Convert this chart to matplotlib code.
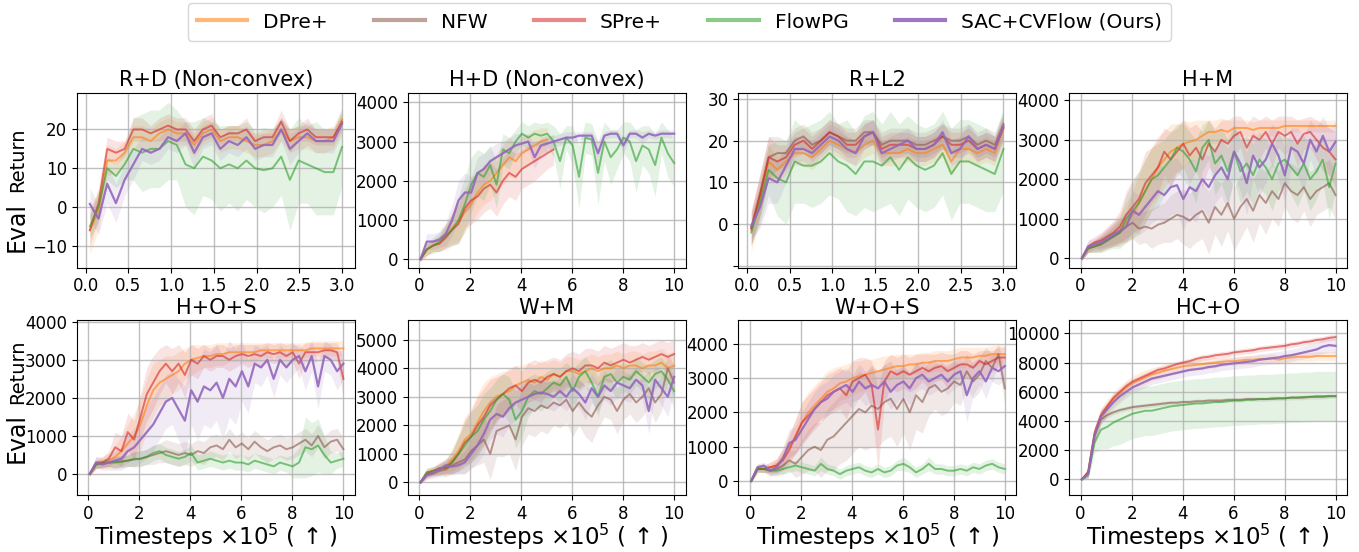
import numpy as np
import matplotlib
matplotlib.use("Agg")
import matplotlib.pyplot as plt

# x grids (x10^5 timesteps)
x_short = np.linspace(0.05, 3.0, 30)
x_long = np.linspace(0.05, 10.0, 41)

method_names = ["DPre+", "NFW", "SPre+", "FlowPG", "SAC+CVFlow (Ours)"]
method_colors = ["tab:orange", "tab:brown", "tab:red", "tab:green", "tab:purple"]

# ---------------- R+D (Non-convex) ----------------
rd_dpre = [-6, -1, 12, 12, 14, 18, 18, 17, 19, 20, 19, 19, 16, 19, 20, 17, 18, 18, 17, 16, 16, 17, 20, 17, 18, 18, 17, 17, 18, 22.5]
rd_spre = [-6, 1, 15, 14, 15, 20, 20, 19, 20, 21, 20, 20, 17, 20, 21, 18, 19, 19, 20, 17, 18, 18, 22, 17, 19, 20, 18, 18, 18, 22]
rd_flow = [-5, 0, 10, 8, 11, 15, 14, 15, 15, 17, 16, 11, 10, 13, 12, 10, 11, 10, 12, 10, 9.5, 10, 13, 7, 12, 11, 10, 9, 9, 15.5]
rd_ours = [0.8, -3, 6, 1, 7, 11, 15, 14, 15, 18, 17, 19, 14, 18, 19, 15, 17, 16, 18, 15, 16, 16, 20, 15, 17, 19, 17, 17, 17, 21.5]
rd_dpre_sd = [6, 5, 4, 3, 3, 3, 3, 3, 3, 3, 3, 3, 3, 3, 3, 3, 3, 3, 3, 3, 3, 3, 3, 3, 3, 3, 3, 3, 3, 3]
rd_spre_sd = [4, 4, 3, 3, 2, 3, 3, 2, 3, 3, 3, 3, 3, 3, 3, 2, 2, 2, 3, 2, 2, 2, 3, 3, 2, 3, 2, 2, 2, 2]
rd_flow_sd = [3, 4, 3, 3, 4, 8, 10, 10, 10, 10, 9, 11, 12, 10, 10, 11, 10, 11, 10, 10, 11, 10, 10, 13, 11, 10, 12, 11, 11, 10]
rd_ours_sd = [4, 4, 5, 5, 4, 4, 3, 3, 3, 3, 3, 3, 4, 3, 3, 3, 3, 3, 3, 3, 3, 3, 3, 4, 3, 3, 3, 3, 3, 3]

# ---------------- R+L2 ----------------
rl_dpre = [-1.5, 6, 15, 13, 15, 17, 17, 16, 18, 20, 19, 18, 17, 19, 20, 17, 17, 17, 18, 17, 17, 18, 19, 15, 18, 18, 17, 18, 17, 23]
rl_nfw = [-1, 7, 16, 17, 17, 20, 21, 19, 20, 22, 21, 20, 20, 22, 22, 19, 20, 20, 20, 19, 19, 20, 21, 20, 20, 21, 19, 20, 19, 24]
rl_spre = [-1, 7, 16, 15, 16, 19, 20, 18, 20, 22, 21, 19, 19, 21, 22, 18, 19, 19, 19, 18, 18, 19, 21, 19, 19, 20, 18, 19, 18, 23]
rl_flow = [-2, 5, 13, 11, 10, 15, 14, 14, 15, 17, 15, 14, 12, 15, 15, 14, 16, 13, 16, 14, 13, 14, 17, 12, 15, 15, 14, 13, 12, 18]
rl_ours = [-0.5, 4, 11, 10, 14, 18, 18, 17, 19, 21, 20, 18, 17, 21, 22, 17, 18, 19, 20, 18, 18, 19, 22, 17, 18, 21, 18, 19, 18, 23.5]
rl_dpre_sd = [5, 5, 4, 3, 3, 3, 3, 3, 3, 3, 3, 3, 3, 3, 3, 3, 3, 3, 3, 3, 3, 3, 3, 3, 3, 3, 3, 3, 3, 3]
rl_nfw_sd = [4, 5, 5, 4, 3, 3, 3, 3, 3, 3, 3, 3, 3, 3, 3, 3, 3, 3, 3, 3, 3, 3, 3, 3, 3, 3, 3, 3, 3, 3]
rl_spre_sd = [4, 5, 5, 4, 3, 3, 3, 3, 3, 3, 3, 3, 3, 3, 3, 3, 3, 3, 3, 3, 3, 3, 3, 3, 3, 3, 3, 3, 3, 3]
rl_flow_sd = [3, 5, 6, 9, 10, 10, 9, 10, 10, 10, 9, 11, 10, 11, 12, 10, 11, 11, 10, 10, 10, 10, 10, 11, 10, 10, 10, 10, 9, 10]
rl_ours_sd = [3, 5, 6, 5, 4, 3, 3, 3, 3, 3, 3, 3, 3, 3, 3, 3, 3, 3, 3, 3, 3, 3, 3, 3, 3, 3, 3, 3, 3, 3]

# ---------------- H+D (Non-convex) ----------------
nan = np.nan
hd_dpre = [0, 250, 350, 400, 600, 800, 950, 1200, 1400, 1700, 1900, 2000, 2200, 2400, 2600, 2500, 2700, 2800, 2900, 3000, 3050,
           nan, nan, nan, nan, nan, nan, nan, nan, nan, nan, nan, nan, nan, nan, nan, nan, nan, nan, nan, nan]
hd_spre = [0, 250, 350, 400, 550, 750, 900, 1300, 1500, 1600, 1800, 1900, 1700, 2000, 2200, 2100, 2300, 2400, 2500, 2600, 2700,
           2800, nan, nan, nan, nan, nan, nan, nan, nan, nan, nan, nan, nan, nan, nan, nan, nan, nan, nan, nan]
hd_flow = [0, 250, 350, 450, 600, 750, 1000, 1400, 1900, 2200, 2100, 2400, 1900, 2800, 2700, 3000, 3200, 3100, 3200, 3150, 3200,
           3000, 2500, 3100, 2900, 2100, 3100, 3050, 2200, 3000, 2600, 2800, 3100, 3000, 2500, 2900, 2800, 2400, 3100, 2700, 2450]
hd_ours = [0, 450, 450, 500, 650, 1000, 1500, 1700, 1700, 2200, 2300, 2500, 2600, 2700, 2800, 2900, 2950, 3000, 2600, 2900, 2950,
           3000, 3050, 3100, 3100, 3150, 3150, 3150, 2700, 3150, 3200, 3200, 2900, 3200, 3200, 3100, 3200, 3150, 3200, 3200, 3200]
hd_dpre_sd = [50, 150, 150, 200, 300, 400, 500, 500, 500, 500, 500, 500, 500, 500, 500, 450, 400, 400, 400, 350, 300,
              nan, nan, nan, nan, nan, nan, nan, nan, nan, nan, nan, nan, nan, nan, nan, nan, nan, nan, nan, nan]
hd_spre_sd = [50, 150, 150, 200, 300, 400, 500, 500, 600, 600, 600, 600, 600, 600, 600, 600, 500, 500, 500, 450, 400,
              400, nan, nan, nan, nan, nan, nan, nan, nan, nan, nan, nan, nan, nan, nan, nan, nan, nan, nan, nan]
hd_flow_sd = [50, 150, 200, 250, 300, 400, 600, 700, 700, 600, 600, 500, 600, 400, 400, 300, 300, 300, 300, 300, 300,
              400, 700, 300, 500, 800, 400, 400, 800, 500, 700, 500, 400, 500, 800, 500, 600, 800, 400, 600, 600]
hd_ours_sd = [50, 200, 200, 200, 300, 400, 500, 500, 400, 400, 400, 350, 350, 300, 300, 300, 250, 200, 300, 200, 200,
              150, 150, 150, 150, 100, 100, 100, 300, 100, 100, 100, 200, 100, 100, 150, 100, 100, 100, 100, 100]

# ---------------- H+M ----------------
hm_dpre = [0, 250, 300, 400, 500, 600, 700, 900, 1100, 1400, 1700, 2000, 2300, 2500, 2700, 2800, 2900, 2950, 3000, 3100, 3200,
           3200, 3250, 3200, 3300, 3300, 3300, 3250, 3300, 3300, 3300, 3300, 3350, 3350, 3350, 3350, 3350, 3350, 3350, 3350, 3350]
hm_nfw = [0, 250, 300, 350, 450, 550, 650, 800, 900, 750, 800, 750, 850, 900, 1000, 1100, 1050, 950, 1100, 1200, 900,
          1300, 1100, 1400, 1000, 1300, 1500, 1200, 1600, 1400, 1700, 1500, 1900, 1700, 1600, 1800, 1500, 1700, 1800, 1900, 1600]
hm_spre = [0, 300, 400, 450, 550, 650, 800, 1100, 1300, 1500, 1900, 2100, 2300, 2700, 2500, 2700, 2900, 2600, 2800, 2500, 2900,
           2700, 3000, 2900, 3100, 3200, 2800, 3100, 3000, 3200, 2900, 3200, 3100, 3200, 2900, 3150, 3200, 3000, 2800, 2700, 2500]
hm_flow = [0, 250, 300, 350, 450, 550, 650, 1000, 1200, 1400, 1700, 2000, 2100, 2300, 2500, 2800, 2700, 2500, 2200, 2800, 3000,
           2400, 2600, 2200, 2700, 2200, 2400, 2100, 2500, 2300, 2000, 2400, 2500, 2300, 2100, 2400, 2000, 2200, 2500, 1800, 2400]
hm_ours = [0, 300, 350, 400, 500, 600, 700, 800, 1200, 1100, 1300, 1500, 1700, 1600, 1800, 1850, 1500, 1800, 1700, 2000, 1800,
           2100, 2300, 2000, 2700, 2400, 1900, 2600, 2300, 2500, 2900, 2600, 2100, 2800, 2700, 2400, 3000, 2700, 3100, 2700, 2950]
hm_dpre_sd = [50, 100, 150, 200, 250, 300, 400, 500, 600, 700, 800, 800, 800, 700, 700, 600, 600, 500, 500, 400, 300,
              300, 300, 300, 200, 200, 200, 200, 200, 200, 200, 200, 150, 150, 150, 150, 150, 150, 150, 150, 150]
hm_nfw_sd = [50, 100, 150, 200, 200, 250, 300, 350, 400, 400, 400, 500, 500, 500, 600, 600, 700, 700, 700, 700, 800,
             700, 800, 700, 800, 800, 700, 800, 700, 800, 700, 700, 600, 700, 700, 600, 700, 600, 600, 600, 600]
hm_spre_sd = [50, 150, 150, 200, 250, 300, 400, 600, 700, 700, 800, 700, 700, 600, 700, 600, 600, 700, 600, 700, 600,
              600, 500, 600, 500, 400, 600, 500, 500, 400, 600, 400, 500, 400, 600, 400, 400, 500, 600, 600, 700]
hm_flow_sd = [50, 100, 150, 200, 250, 300, 400, 600, 700, 800, 800, 800, 800, 700, 700, 600, 700, 700, 800, 600, 500,
              800, 700, 800, 700, 800, 700, 800, 700, 700, 800, 700, 600, 700, 800, 700, 800, 700, 600, 800, 700]
hm_ours_sd = [50, 150, 150, 200, 250, 300, 300, 400, 500, 500, 600, 600, 700, 700, 700, 700, 800, 700, 800, 700, 800,
              700, 700, 800, 600, 700, 800, 600, 700, 600, 500, 600, 700, 500, 600, 700, 500, 600, 500, 600, 500]

# ---------------- H+O+S ----------------
hos_dpre = [0, 250, 300, 350, 450, 600, 800, 1000, 1300, 1800, 2200, 2400, 2500, 2600, 2700, 2900, 3000, 3050, 3100, 3100, 3150,
            3150, 3200, 3200, 3200, 3200, 3200, 3250, 3250, 3250, 3250, 3250, 3250, 3250, 3250, 3300, 3300, 3300, 3300, 3300, 3300]
hos_nfw = [0, 250, 280, 300, 320, 330, 350, 380, 400, 450, 500, 550, 600, 550, 500, 550, 500, 600, 550, 700, 750,
           650, 900, 700, 800, 650, 850, 700, 600, 700, 750, 650, 700, 800, 900, 750, 1000, 700, 850, 900, 650]
hos_spre = [0, 300, 300, 400, 700, 600, 1100, 900, 1500, 2100, 2400, 2700, 2900, 2700, 2900, 2600, 3000, 2900, 3100, 3000, 3100,
            3100, 3000, 3100, 3150, 3100, 3150, 3100, 3200, 3150, 3200, 3100, 3200, 2900, 3200, 3200, 3200, 3250, 3250, 3200, 2500]
hos_flow = [0, 250, 280, 300, 300, 320, 350, 400, 400, 450, 550, 600, 500, 450, 400, 450, 550, 300, 350, 400, 350,
            300, 350, 300, 300, 250, 350, 300, 250, 200, 300, 250, 200, 300, 700, 650, 750, 500, 300, 350, 400]
hos_ours = [0, 300, 250, 300, 350, 400, 600, 700, 900, 1100, 1300, 1600, 1900, 2000, 1700, 1400, 2200, 1900, 2300, 2200, 2400,
            2000, 2500, 2300, 2700, 2300, 2900, 2800, 3000, 2500, 3000, 2800, 3000, 3100, 2700, 3100, 2300, 3100, 3000, 2700, 2900]
hos_dpre_sd = [50, 100, 150, 200, 300, 400, 500, 600, 700, 700, 700, 600, 600, 500, 500, 400, 400, 350, 300, 300, 300,
               300, 250, 250, 250, 250, 250, 200, 200, 200, 200, 200, 200, 200, 200, 200, 200, 200, 200, 200, 200]
hos_nfw_sd = [50, 100, 100, 100, 150, 150, 150, 200, 200, 200, 250, 250, 300, 300, 300, 300, 300, 300, 300, 300, 300,
              300, 300, 300, 300, 300, 300, 300, 300, 300, 300, 300, 300, 300, 300, 300, 300, 300, 300, 300, 300]
hos_spre_sd = [50, 150, 150, 200, 400, 400, 500, 500, 600, 700, 700, 600, 500, 600, 500, 600, 400, 400, 300, 300, 300,
               300, 300, 300, 250, 300, 250, 300, 250, 250, 250, 300, 250, 400, 250, 250, 250, 200, 200, 250, 500]
hos_flow_sd = [50, 100, 100, 100, 150, 150, 150, 200, 200, 200, 200, 200, 200, 200, 200, 200, 200, 200, 200, 200, 200,
               200, 200, 200, 200, 200, 200, 200, 200, 200, 200, 200, 300, 400, 800, 700, 700, 500, 300, 200, 200]
hos_ours_sd = [50, 150, 150, 200, 250, 300, 400, 500, 600, 700, 700, 700, 700, 700, 800, 900, 900, 1000, 1000, 1000, 1000,
               1100, 1000, 1000, 800, 700, 500, 500, 400, 500, 400, 400, 400, 300, 500, 400, 600, 400, 400, 500, 400]

# ---------------- W+M ----------------
wm_dpre = [0, 350, 400, 450, 550, 800, 1100, 1500, 1700, 2100, 2500, 2800, 3000, 3100, 3200, 3400, 3500, 3600, 3500, 3700, 3600,
           3800, 3700, 3900, 3900, 3800, 3900, 4000, 3900, 4000, 4000, 4100, 4000, 4100, 4100, 4000, 4100, 4100, 4200, 4000, 4100]
wm_nfw = [0, 250, 300, 400, 450, 600, 700, 800, 1100, 1300, 1500, 1000, 1800, 1900, 2000, 1500, 2300, 2600, 2500, 2700, 2600,
          2800, 2700, 2900, 2500, 2800, 2500, 2300, 2700, 3000, 2900, 2500, 2900, 3100, 2800, 3000, 3300, 2800, 3100, 4000, 3500]
wm_spre = [0, 300, 400, 500, 500, 700, 1000, 1400, 1600, 2000, 2300, 2700, 2900, 3100, 3300, 3400, 3200, 3500, 3600, 3500, 3700,
           3800, 3700, 3900, 4000, 3900, 4100, 4100, 4000, 4200, 4100, 4200, 4300, 4200, 4300, 4400, 4300, 4400, 4500, 4400, 4500]
wm_flow = [0, 350, 400, 450, 550, 700, 1000, 1300, 1600, 1800, 2200, 2500, 2900, 3100, 2900, 2200, 2500, 3000, 3200, 3100, 3300,
           3500, 3400, 3700, 3200, 3700, 3900, 3500, 3000, 3700, 3800, 3500, 3700, 3600, 3900, 3700, 3500, 3800, 3900, 3600, 3200]
wm_ours = [0, 250, 350, 450, 600, 550, 600, 700, 1000, 1300, 1700, 2200, 2400, 2300, 2600, 2800, 2900, 3000, 3100, 3150, 3100,
           3000, 3200, 3000, 3300, 3100, 2800, 3300, 3000, 3400, 3200, 3500, 3400, 3300, 3600, 3400, 2500, 3600, 3300, 3000, 3700]
wm_dpre_sd = [50, 150, 150, 200, 250, 400, 600, 800, 900, 1000, 1000, 900, 800, 800, 700, 700, 600, 600, 600, 600, 600,
              500, 500, 500, 500, 500, 500, 500, 500, 500, 500, 500, 500, 500, 500, 500, 500, 500, 500, 500, 500]
wm_nfw_sd = [50, 150, 150, 200, 250, 300, 400, 500, 600, 700, 800, 900, 900, 1000, 1000, 1100, 1000, 900, 900, 900, 900,
             800, 800, 800, 900, 800, 900, 900, 800, 700, 700, 800, 700, 700, 700, 700, 600, 700, 600, 500, 600]
wm_spre_sd = [50, 150, 150, 200, 250, 400, 600, 800, 900, 1000, 1000, 900, 800, 700, 700, 700, 700, 700, 700, 700, 600,
              600, 600, 600, 600, 600, 600, 600, 600, 600, 600, 600, 600, 600, 500, 500, 500, 500, 500, 500, 500]
wm_flow_sd = [50, 150, 150, 200, 250, 400, 600, 800, 900, 900, 900, 800, 700, 700, 800, 1000, 900, 700, 600, 600, 600,
              500, 600, 500, 800, 500, 500, 600, 700, 500, 500, 600, 500, 500, 500, 500, 600, 500, 500, 500, 600]
wm_ours_sd = [50, 100, 150, 200, 250, 300, 300, 400, 500, 600, 700, 700, 700, 700, 600, 600, 600, 600, 500, 500, 500,
              500, 500, 500, 500, 500, 600, 500, 500, 500, 500, 500, 500, 500, 500, 500, 800, 500, 600, 700, 500]

# ---------------- W+O+S ----------------
wos_dpre = [0, 400, 350, 400, 450, 700, 1000, 1300, 1700, 2000, 2200, 2400, 2600, 2700, 2850, 2900, 3000, 3050, 3100, 3150, 3200,
            3250, 3300, 3350, 3350, 3400, 3400, 3450, 3450, 3500, 3500, 3500, 3550, 3600, 3600, 3600, 3650, 3650, 3700, 3700, 3700]
wos_nfw = [0, 350, 350, 300, 350, 450, 600, 500, 700, 900, 1000, 900, 1200, 1300, 1500, 1700, 1900, 2100, 2000, 2200, 2100,
           2300, 2400, 2100, 2400, 2000, 2500, 2300, 2700, 2800, 2600, 2700, 2900, 2800, 3200, 2900, 3100, 3500, 3300, 3700, 2700]
wos_spre = [0, 350, 350, 400, 450, 600, 900, 1300, 1700, 1900, 2100, 2300, 2500, 2600, 2700, 2500, 2900, 3000, 3100, 2800, 1500,
            2900, 3200, 3100, 3200, 3100, 3200, 3300, 3200, 3300, 3350, 3200, 3300, 3400, 3400, 3300, 3500, 3400, 3500, 3600, 3600]
wos_flow = [0, 350, 350, 300, 300, 350, 400, 450, 400, 350, 300, 500, 350, 300, 200, 300, 350, 400, 300, 250, 350,
            250, 300, 450, 500, 400, 250, 350, 500, 350, 350, 300, 300, 350, 300, 400, 350, 450, 500, 400, 350]
wos_ours = [0, 400, 450, 300, 400, 650, 1100, 1200, 1500, 1800, 2100, 2300, 2400, 2600, 2700, 2800, 2600, 2900, 2700, 2800, 2700,
            2900, 2600, 2800, 2900, 2700, 3000, 3100, 2900, 3000, 3100, 2900, 3100, 3200, 2500, 3000, 3200, 2900, 3300, 3200, 3350]
wos_dpre_sd = [50, 100, 100, 150, 200, 300, 400, 500, 600, 600, 600, 600, 600, 600, 500, 500, 500, 450, 450, 400, 400,
               400, 350, 350, 350, 300, 300, 300, 300, 300, 300, 300, 300, 300, 300, 300, 250, 250, 250, 250, 250]
wos_nfw_sd = [50, 100, 100, 150, 200, 250, 300, 400, 500, 600, 700, 800, 900, 1000, 1000, 1100, 1100, 1100, 1100, 1200, 1100,
              1100, 1100, 1100, 1000, 1100, 1000, 900, 800, 700, 700, 700, 600, 600, 500, 500, 500, 400, 400, 300, 500]
wos_spre_sd = [50, 100, 100, 150, 200, 300, 400, 500, 600, 600, 600, 600, 600, 600, 600, 700, 600, 600, 500, 700, 1200,
               600, 500, 500, 500, 500, 500, 400, 500, 400, 400, 500, 400, 400, 400, 400, 300, 400, 300, 300, 300]
wos_flow_sd = [50, 100, 100, 100, 100, 150, 150, 150, 150, 150, 150, 200, 150, 150, 150, 150, 150, 150, 150, 150, 150,
               150, 150, 150, 200, 150, 150, 150, 200, 150, 150, 150, 150, 150, 150, 150, 150, 150, 150, 150, 150]
wos_ours_sd = [50, 100, 100, 150, 200, 300, 400, 400, 500, 500, 500, 500, 500, 500, 500, 500, 500, 500, 500, 500, 500,
               500, 500, 500, 400, 500, 400, 400, 400, 400, 400, 400, 400, 400, 800, 500, 400, 500, 400, 400, 400]

# ---------------- HC+O ----------------
hco_dpre = [0, 500, 3100, 4300, 5000, 5500, 5900, 6300, 6600, 6800, 7000, 7200, 7300, 7450, 7550, 7650, 7750, 7800, 7850, 7900, 7950,
            8000, 8050, 8100, 8100, 8150, 8200, 8200, 8250, 8250, 8300, 8200, 8300, 8350, 8400, 8400, 8400, 8450, 8450, 8450, 8450]
hco_nfw = [0, 450, 3000, 4100, 4400, 4600, 4750, 4850, 4950, 5000, 5050, 5100, 5150, 5200, 5250, 5250, 5300, 5300, 5350, 5350, 5400,
           5400, 5400, 5450, 5450, 5450, 5500, 5500, 5500, 5500, 5550, 5550, 5550, 5600, 5600, 5600, 5650, 5650, 5650, 5700, 5700]
hco_spre = [0, 500, 3200, 4400, 5000, 5600, 6000, 6400, 6700, 6900, 7100, 7300, 7500, 7600, 7750, 7900, 8000, 8100, 8250, 8350, 8400,
            8500, 8550, 8600, 8700, 8750, 8800, 8850, 8950, 9000, 9050, 9100, 9150, 9250, 9300, 9400, 9450, 9550, 9600, 9700, 9750]
hco_flow = [0, 300, 2500, 3400, 3600, 3900, 4100, 4300, 4500, 4600, 4700, 4700, 4800, 4900, 5000, 5050, 5100, 5150, 5200, 5200, 5250,
            5300, 5300, 5350, 5400, 5400, 5450, 5450, 5500, 5500, 5500, 5550, 5550, 5600, 5600, 5650, 5650, 5700, 5700, 5700, 5700]
hco_ours = [0, 400, 3000, 4300, 4800, 5300, 5700, 6000, 6300, 6500, 6700, 6900, 7000, 7100, 7200, 7300, 7400, 7500, 7550, 7600, 7700,
            7750, 7850, 7900, 7950, 8000, 8050, 8100, 8200, 8250, 8300, 8350, 8450, 8500, 8600, 8700, 8800, 8900, 9100, 9200, 9150]
hco_dpre_sd = [50, 300, 500, 500, 500, 500, 500, 500, 500, 500, 500, 450, 450, 450, 400, 400, 400, 400, 350, 350, 350,
               350, 300, 300, 300, 300, 300, 300, 300, 300, 300, 300, 300, 300, 300, 300, 300, 300, 300, 300, 300]
hco_nfw_sd = [50, 300, 400, 300, 200, 150, 150, 150, 150, 150, 150, 150, 150, 150, 150, 150, 150, 150, 150, 150, 150,
              150, 150, 150, 150, 150, 150, 150, 150, 150, 150, 150, 150, 150, 150, 150, 150, 150, 150, 150, 150]
hco_spre_sd = [50, 300, 400, 400, 300, 300, 250, 250, 200, 200, 200, 200, 200, 200, 200, 200, 200, 200, 200, 200, 200,
               200, 200, 200, 200, 200, 200, 200, 200, 200, 200, 200, 200, 200, 200, 200, 200, 200, 200, 200, 200]
hco_flow_sd = [50, 300, 700, 1300, 1500, 1600, 1700, 1700, 1700, 1700, 1700, 1700, 1700, 1700, 1700, 1700, 1700, 1700, 1700, 1700, 1700,
               1700, 1700, 1700, 1700, 1700, 1700, 1700, 1700, 1700, 1700, 1700, 1700, 1700, 1700, 1700, 1700, 1700, 1700, 1700, 1700]
hco_ours_sd = [50, 300, 500, 500, 500, 450, 450, 400, 400, 400, 400, 400, 400, 400, 400, 400, 400, 400, 400, 400, 400,
               400, 400, 400, 400, 400, 400, 400, 400, 400, 400, 400, 400, 400, 400, 450, 450, 450, 500, 500, 500]

# title, x grid, [(mean, sd, method index)], ylim, yticks
panels = [
    ("R+D (Non-convex)", x_short,
     [(rd_dpre, rd_dpre_sd, 0), (rd_spre, rd_spre_sd, 2), (rd_flow, rd_flow_sd, 3), (rd_ours, rd_ours_sd, 4)],
     (-15.6, 29.4), [-10, 0, 10, 20]),
    ("H+D (Non-convex)", x_long,
     [(hd_dpre, hd_dpre_sd, 0), (hd_spre, hd_spre_sd, 2), (hd_flow, hd_flow_sd, 3), (hd_ours, hd_ours_sd, 4)],
     (-212, 4237), [0, 1000, 2000, 3000, 4000]),
    ("R+L2", x_short,
     [(rl_dpre, rl_dpre_sd, 0), (rl_nfw, rl_nfw_sd, 1), (rl_spre, rl_spre_sd, 2), (rl_flow, rl_flow_sd, 3), (rl_ours, rl_ours_sd, 4)],
     (-10.4, 31.4), [-10, 0, 10, 20, 30]),
    ("H+M", x_long,
     [(hm_dpre, hm_dpre_sd, 0), (hm_nfw, hm_nfw_sd, 1), (hm_spre, hm_spre_sd, 2), (hm_flow, hm_flow_sd, 3), (hm_ours, hm_ours_sd, 4)],
     (-236, 4185), [0, 1000, 2000, 3000, 4000]),
    ("H+O+S", x_long,
     [(hos_dpre, hos_dpre_sd, 0), (hos_nfw, hos_nfw_sd, 1), (hos_spre, hos_spre_sd, 2), (hos_flow, hos_flow_sd, 3), (hos_ours, hos_ours_sd, 4)],
     (-553, 4035), [0, 1000, 2000, 3000, 4000]),
    ("W+M", x_long,
     [(wm_dpre, wm_dpre_sd, 0), (wm_nfw, wm_nfw_sd, 1), (wm_spre, wm_spre_sd, 2), (wm_flow, wm_flow_sd, 3), (wm_ours, wm_ours_sd, 4)],
     (-445, 5679), [0, 1000, 2000, 3000, 4000, 5000]),
    ("W+O+S", x_long,
     [(wos_dpre, wos_dpre_sd, 0), (wos_nfw, wos_nfw_sd, 1), (wos_spre, wos_spre_sd, 2), (wos_flow, wos_flow_sd, 3), (wos_ours, wos_ours_sd, 4)],
     (-409, 4681), [0, 1000, 2000, 3000, 4000]),
    ("HC+O", x_long,
     [(hco_dpre, hco_dpre_sd, 0), (hco_nfw, hco_nfw_sd, 1), (hco_spre, hco_spre_sd, 2), (hco_flow, hco_flow_sd, 3), (hco_ours, hco_ours_sd, 4)],
     (-1076, 10892), [0, 2000, 4000, 6000, 8000, 10000]),
]

W, H = 1359, 552
fig, axes = plt.subplots(2, 4, figsize=(W / 100, H / 100), dpi=100)
fig.subplots_adjust(left=77 / W, right=1347 / W, top=1 - 93 / H, bottom=1 - 495 / H,
                    wspace=0.19, hspace=0.303)

for ax, (title, xs, series, ylim, yticks) in zip(axes.flat, panels):
    for mean, sd, k in series:
        m = np.array(mean, dtype=float)
        s = np.array(sd, dtype=float)
        ours = k == 4
        ax.fill_between(xs, m - s, m + s, color=method_colors[k], alpha=0.13, lw=0)
        ax.plot(xs, m, color=method_colors[k], lw=1.6 if ours else 1.4,
                alpha=0.9 if ours else 0.6, zorder=3 if ours else 2)
    ax.set_title(title, fontsize=15, pad=5)
    ax.set_ylim(*ylim)
    ax.set_yticks(yticks)
    if title == "R+L2":
        ax.set_yticklabels(["", "0", "10", "20", "30"])
    if xs is x_short:
        ax.set_xlim(-0.1, 3.15)
        ax.set_xticks([0, 0.5, 1.0, 1.5, 2.0, 2.5, 3.0])
    else:
        ax.set_xlim(-0.45, 10.45)
        ax.set_xticks([0, 2, 4, 6, 8, 10])
    ax.tick_params(labelsize=12)
    ax.grid(True, color="#b0b0b0", lw=1, alpha=0.8)

# y label: "Eval" drawn larger than "Return", as in the original
for top_px, bot_px in [(128, 252), (340, 463)]:
    fig.text(18 / W, 1 - top_px / H, "Return", rotation=90, fontsize=14, ha="center", va="top")
    fig.text(17 / W, 1 - bot_px / H, "Eval", rotation=90, fontsize=17, ha="center", va="bottom")

for ax in axes[1, :]:
    ax.set_xlabel("Timesteps $\\times 10^5$ ( \u2191 )", fontsize=16.5, labelpad=-1)

handles = [plt.Line2D([], [], color=c, lw=3, alpha=0.9 if i == 4 else 0.55)
           for i, c in enumerate(method_colors)]
fig.legend(handles, method_names, loc="upper center", bbox_to_anchor=(0.5, 1.012), ncol=5,
           fontsize=14.5, handlelength=2.5, columnspacing=2.3, frameon=True, borderpad=0.45)

fig.savefig("out.png", dpi=100)
